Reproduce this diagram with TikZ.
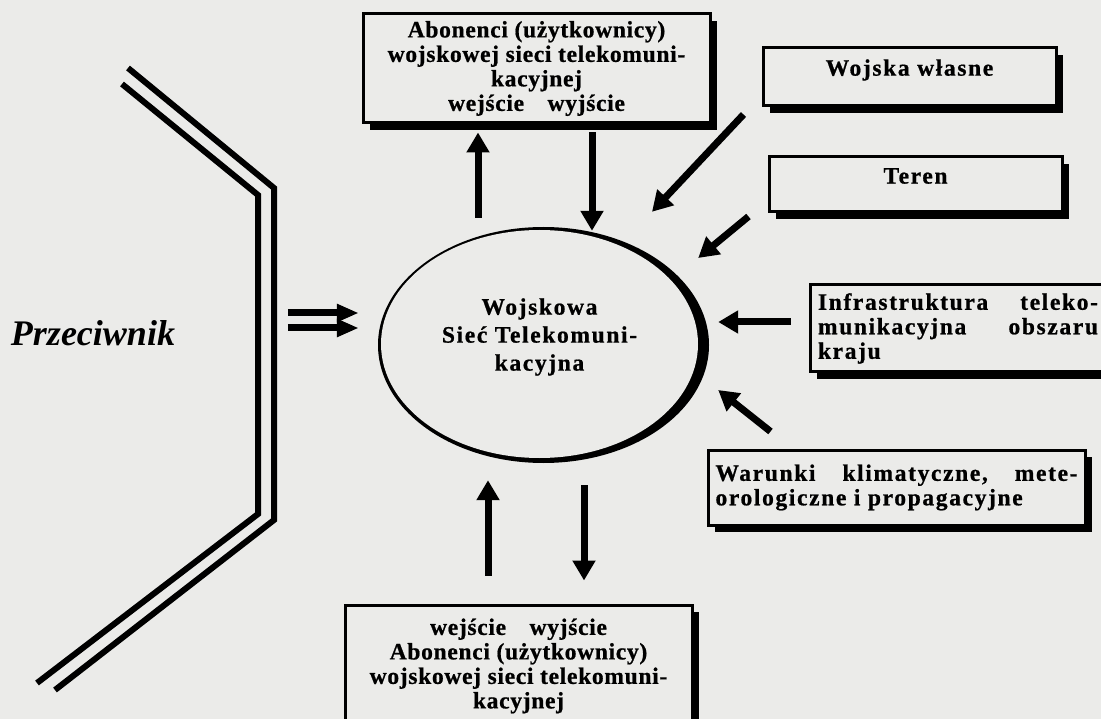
\documentclass[tikz,border=0pt]{standalone}
\usepackage{fontspec}
\setmainfont{Liberation Serif}[BoldFeatures={FakeBold=0.8}]
\newfontfamily\lsA{Liberation Serif}[LetterSpace=3, BoldFeatures={FakeBold=0.8}]
\newfontfamily\lsB{Liberation Serif}[LetterSpace=7, BoldFeatures={FakeBold=0.8}]
\usetikzlibrary{arrows.meta,calc,shapes.geometric,shadows}
\definecolor{bg}{RGB}{235,235,233}
\tikzset{
  box/.style={draw=black, line width=3pt, fill=bg, inner sep=0pt,
    drop shadow={shadow xshift=7pt, shadow yshift=-7pt, fill=black, opacity=1}},
  arr/.style={line width=7pt, -{Triangle[length=20pt,width=22pt]}},
  sarr/.style={line width=7pt, -{Triangle[length=22pt,width=17pt]}},
  dbl/.style={line width=6pt, line join=miter},
  txtA/.style={font=\lsA\bfseries\fontsize{23.5pt}{24.5pt}\selectfont, align=center},
  txtB/.style={font=\lsB\bfseries\fontsize{23.5pt}{24pt}\selectfont, align=center},
  txtL/.style={font=\lsB\bfseries\fontsize{23.5pt}{24.5pt}\selectfont, align=left},
}
\begin{document}
\lineskiplimit=-20pt\relax
\begin{tikzpicture}[x=1pt,y=-1pt]
\useasboundingbox (0,0) rectangle (1101,719);
\clip (0,0) rectangle (1101,719);
\fill[bg] (0,0) rectangle (1101,719);

% boxes
\node[box, txtA, minimum width=347pt, minimum height=109pt] (top) at (536.5,68.5)
  {Abonenci (użytkownicy)\\wojskowej sieci telekomuni-\\kacyjnej\\wejście\quad wyjście};
\node[box, txtB, minimum width=293pt, minimum height=58pt] (wojska) at (909.5,77)
  {\raisebox{7pt}[\height][\depth]{Wojska własne}};
\node[box, txtB, minimum width=293pt, minimum height=55pt] (teren) at (915.5,184.5)
  {\raisebox{8.5pt}[\height][\depth]{Teren}};
\node[box, txtL, minimum width=296pt, minimum height=87pt] (infra) at (958,328.5)
  {\makebox[280pt][s]{Infrastruktura\hfill teleko-}\\\makebox[280pt][s]{munikacyjna\hfill obszaru}\\kraju};
\node[box, txtL, minimum width=377pt, minimum height=75pt] (warunki) at (896.5,487.5)
  {\makebox[362pt][s]{Warunki\hfill klimatyczne,\hfill mete-}\\orologiczne i propagacyjne};
\node[box, txtA, minimum width=347pt, minimum height=122pt] (bottom) at (518.5,666)
  {wejście\quad wyjście\\Abonenci (użytkownicy)\\wojskowej sieci telekomuni-\\kacyjnej};

% network ellipse with thick right side
\fill[black] (543.5,345) ellipse [x radius=165.5pt, y radius=118pt];
\node[ellipse, fill=bg, inner sep=0pt, minimum width=317pt, minimum height=228pt,
      font=\lsB\bfseries\fontsize{23.5pt}{28pt}\selectfont] (net) at (539.5,344)
  {\raisebox{7pt}[\height][\depth]{\begin{tabular}{@{}c@{}}Wojskowa\\Sieć Telekomuni-\\kacyjna\end{tabular}}};

% enemy
\node[font=\bfseries\itshape\fontsize{36pt}{40pt}\selectfont] (enemy) at (93,333) {Przeciwnik};

% double border line
\draw[dbl] (122,84) -- (258,195) -- (258,514) -- (37,683);
\draw[dbl] (128,68) -- (274,188) -- (274,520) -- (55,690);

% arrows
\draw[arr] ($(net.north)+(-61.5,-12)$) -- ($(top.south)+(-58.5,8)$);
\draw[arr] ($(top.south)+(55.5,8)$) -- ($(net.north)+(52.5,1)$);
\draw[arr] ($(wojska.south west)+(-18,7)$) -- ($(net.north)+(112.5,-18)$);
\draw[arr] ($(teren.south west)+(-19,3)$) -- ($(net.east)+(0,-86)$);
\draw[arr] ($(infra.west)+(-18,-6.5)$) -- ($(net.east)+(20,-22)$);
\draw[arr] ($(warunki.north west)+(64,-17)$) -- ($(net.east)+(20,46)$);
\draw[arr] ($(bottom.north)+(-30.5,-28)$) -- ($(net.south)+(-51.5,22)$);
\draw[arr] ($(net.south)+(44.5,27)$) -- ($(bottom.north)+(65.5,-23)$);
\draw[sarr] ($(net.west)+(-93,-31)$) -- ($(net.west)+(-22,-31)$);
\draw[sarr] ($(net.west)+(-93,-16)$) -- ($(net.west)+(-22,-16)$);
\end{tikzpicture}
\end{document}
